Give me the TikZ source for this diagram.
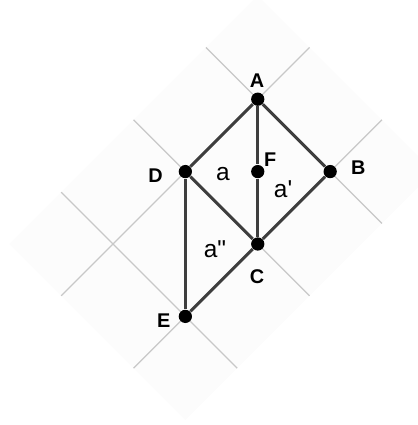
\documentclass[tikz,border=0pt]{standalone}
\usepackage{fontspec}
\setmainfont{Liberation Sans}

\definecolor{gridgray}{RGB}{200,200,200}
\definecolor{bggray}{RGB}{252,252,252}
\definecolor{edgegray}{RGB}{62,62,62}

\begin{document}
\begin{tikzpicture}[
    pt/.style={circle, fill=black, inner sep=0pt, minimum size=0.183cm},
    ptlabel/.style={font=\bfseries\fontsize{7.8}{8}\selectfont},
    arealabel/.style={font=\fontsize{9.6}{10}\selectfont},
    edge/.style={draw=edgegray, line width=1.2pt},
    gridline/.style={draw=gridgray, line width=0.5pt}
  ]
    \clip (-3.56,-2.5) rectangle (2.21,3.37);

    % rotated grid
    \begin{scope}[rotate=45, scale=1.41421]
      \fill[bggray] (-1.715,-0.715) rectangle (1.715,1.715);
      \foreach \a in {-1,0,1} {
        \draw[gridline] (\a,-0.715) -- (\a,1.715);
      }
      \foreach \b in {0,1} {
        \draw[gridline] (-1.715,\b) -- (1.715,\b);
      }
    \end{scope}

    \node[pt] (A) at (0,2) {};
    \node[pt] (D) at (-1,1) {};
    \node[pt] (F) at (0,1) {};
    \node[pt] (B) at (1,1) {};
    \node[pt] (C) at (0,0) {};
    \node[pt] (E) at (-1,-1) {};

    \draw[edge] (A) -- (D);
    \draw[edge] (A) -- (F);
    \draw[edge] (F) -- (C);
    \draw[edge] (A) -- (B);
    \draw[edge] (D) -- (C);
    \draw[edge] (B) -- (C);
    \draw[edge] (D) -- (E);
    \draw[edge] (C) -- (E);

    \node[ptlabel] (lA) at (-0.01,2.26) {A};
    \node[ptlabel] (lF) at (0.17,1.17) {F};
    \node[ptlabel] (lB) at (1.39,1.06) {B};
    \node[ptlabel] (lD) at (-1.41,0.95) {D};
    \node[ptlabel] (lC) at (-0.01,-0.455) {C};
    \node[ptlabel] (lE) at (-1.30,-1.06) {E};

    \node[arealabel] (la) at (-0.48,0.97) {a};
    \node[arealabel] (la1) at (0.35,0.75) {a\textquotesingle};
    \node[arealabel] (la2) at (-0.59,-0.07) {a\textquotedbl};
  \end{tikzpicture}
\end{document}
